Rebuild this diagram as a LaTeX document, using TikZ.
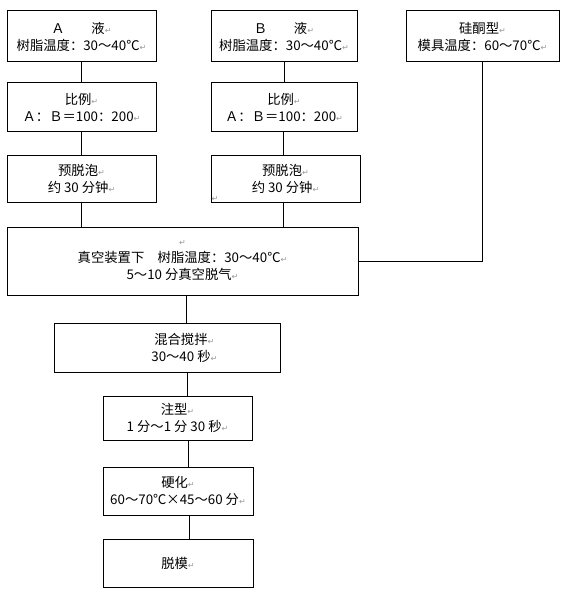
\documentclass[tikz,border=0pt]{standalone}
\usepackage{fontspec}
\setmainfont{Noto Sans CJK SC}
\newfontfamily\dejavu{DejaVu Sans}
\newcommand\pmk{{\color{gray!80}\dejavu\fontsize{6pt}{6pt}\selectfont ↵}}
\begin{document}
\begin{tikzpicture}[x=0.75pt,y=-0.75pt,
  procbox/.style 2 args={draw, line width=0.75pt, minimum width=#1*0.75pt, minimum height=#2*0.75pt, inner sep=0pt, align=center, font=\fontsize{10pt}{12.75pt}\selectfont},
  link/.style={line width=0.75pt}]
\useasboundingbox[fill=white] (0,0) rectangle (564,592);

\node[procbox={149}{51}] (A) at (81.5,36.5) {Ａ　　液\pmk\\树脂温度：30～40℃\pmk};
\node[procbox={146}{51}] (B) at (284,36.5) {Ｂ　　液\pmk\\树脂温度：30～40℃\pmk};
\node[procbox={153}{51}] (S) at (482.5,36.5) {硅酮型\pmk\\模具温度：60～70℃\pmk};

\node[procbox={149}{48}] (RA) at (81.5,107) {比例\pmk\\Ａ：Ｂ＝100：200\pmk};
\node[procbox={146}{48}] (RB) at (284,107) {比例\pmk\\Ａ：Ｂ＝100：200\pmk};

\node[procbox={149}{47}] (PA) at (81.5,178.5) {预脱泡\pmk\\约 30 分钟\pmk};
\node[procbox={149}{47}] (PB) at (285.5,178.5) {预脱泡\pmk\\约 30 分钟\pmk};
\node[inner sep=0pt] (PBm) at (215,199) {\pmk};

\node[procbox={351}{68}] (V) at (182.5,261) {\pmk\\真空装置下　树脂温度：30～40℃\pmk\\5～10 分真空脱气\pmk};

\node[procbox={226}{49}] (M) at (167,347.5) {\hspace*{26pt}混合搅拌\pmk\\\hspace*{26pt}30～40 秒\pmk};
\node[procbox={149}{44}] (I) at (177.5,418) {注型\pmk\\1 分～1 分 30 秒\pmk};
\node[procbox={150}{48}] (C) at (178,491) {硬化\pmk\\60～70℃×45～60 分\pmk};
\node[procbox={150}{48}] (D) at (178,563) {脱模\pmk};

\coordinate (c1) at (186,0);
\coordinate (c2) at (187,0);
\coordinate (c3) at (188,0);
\coordinate (c4) at (189,0);
\coordinate (cb) at (283,0);

\draw[link] (A) -- (RA);
\draw[link] (RA) -- (PA);
\draw[link] (PA.south) -- (PA.south |- V.north);
\draw[link] (B) -- (RB);
\draw[link] (cb |- RB.south) -- (cb |- PB.north);
\draw[link] (cb |- PB.south) -- (cb |- V.north);
\draw[link] (S.south) -- (S.south |- V.east) -- (V.east);
\draw[link] (c1 |- V.south) -- (c1 |- M.north);
\draw[link] (c2 |- M.south) -- (c2 |- I.north);
\draw[link] (c3 |- I.south) -- (c3 |- C.north);
\draw[link] (c4 |- C.south) -- (c4 |- D.north);
\end{tikzpicture}
\end{document}
